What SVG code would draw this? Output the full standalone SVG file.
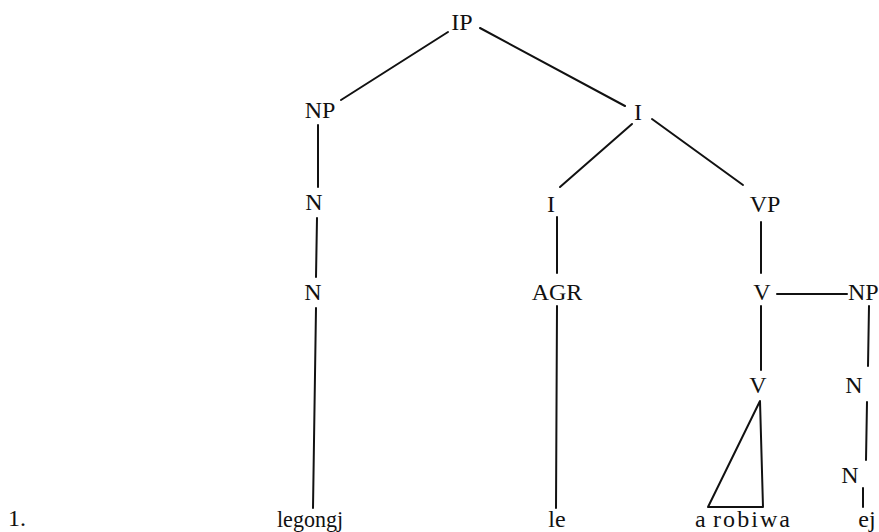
<svg xmlns="http://www.w3.org/2000/svg" width="879" height="532" viewBox="0 0 879 532">
<style>
text{font-family:"Liberation Serif","Times New Roman",serif;font-size:24px;fill:#111;}
.c{text-anchor:middle;}
line,polygon{stroke:#111;stroke-width:2;fill:none;stroke-linecap:round;}
</style>
<rect width="879" height="532" fill="#fff"/>
<g id="connectors">
<line x1="448" y1="32" x2="341" y2="100"/>
<line x1="480" y1="28" x2="625" y2="106"/>
<line x1="632" y1="124" x2="560" y2="187"/>
<line x1="652" y1="119" x2="743" y2="185"/>
<line x1="318" y1="125" x2="318" y2="187"/>
<line x1="317" y1="218" x2="316" y2="277"/>
<line x1="316" y1="308" x2="313" y2="508"/>
<line x1="557" y1="217" x2="557" y2="273"/>
<line x1="557" y1="306" x2="556" y2="508"/>
<line x1="761" y1="222" x2="761" y2="273"/>
<line x1="777" y1="294" x2="847" y2="294"/>
<line x1="761" y1="306" x2="761" y2="370"/>
<line x1="869" y1="306" x2="868" y2="366"/>
<line x1="867" y1="402" x2="866" y2="460"/>
<line x1="863" y1="488" x2="863" y2="507"/>
<polygon points="760,401 708,507 763,507" stroke-linejoin="round"/>
</g>
<g id="n-IP"><text class="c" x="462" y="30">IP</text></g>
<g id="n-NP"><text class="c" x="320" y="118">NP</text></g>
<g id="n-I1"><text class="c" x="638" y="120">I</text></g>
<g id="n-N1"><text class="c" x="314" y="210">N</text></g>
<g id="n-N2"><text class="c" x="313" y="300">N</text></g>
<g id="n-I2"><text class="c" x="551" y="212">I</text></g>
<g id="n-VP"><text class="c" x="765" y="212">VP</text></g>
<g id="n-AGR"><text class="c" x="557" y="300">AGR</text></g>
<g id="n-V1"><text class="c" x="762" y="300">V</text></g>
<g id="n-NP2"><text x="848" y="300">NP</text></g>
<g id="n-V2"><text class="c" x="758" y="393">V</text></g>
<g id="n-N3"><text class="c" x="854" y="393">N</text></g>
<g id="n-N4"><text class="c" x="850" y="483">N</text></g>
<g id="n-num"><text x="8" y="526">1.</text></g>
<g id="n-legongj"><text x="277" y="527" textLength="66" lengthAdjust="spacingAndGlyphs">legongj</text></g>
<g id="n-le"><text class="c" x="557" y="527">le</text></g>
<g id="n-arobiwa"><text x="695" y="527">a</text><text x="713" y="527" textLength="77" lengthAdjust="spacing">robiwa</text></g>
<g id="n-ej"><text class="c" x="867" y="527">ej</text></g>
</svg>
